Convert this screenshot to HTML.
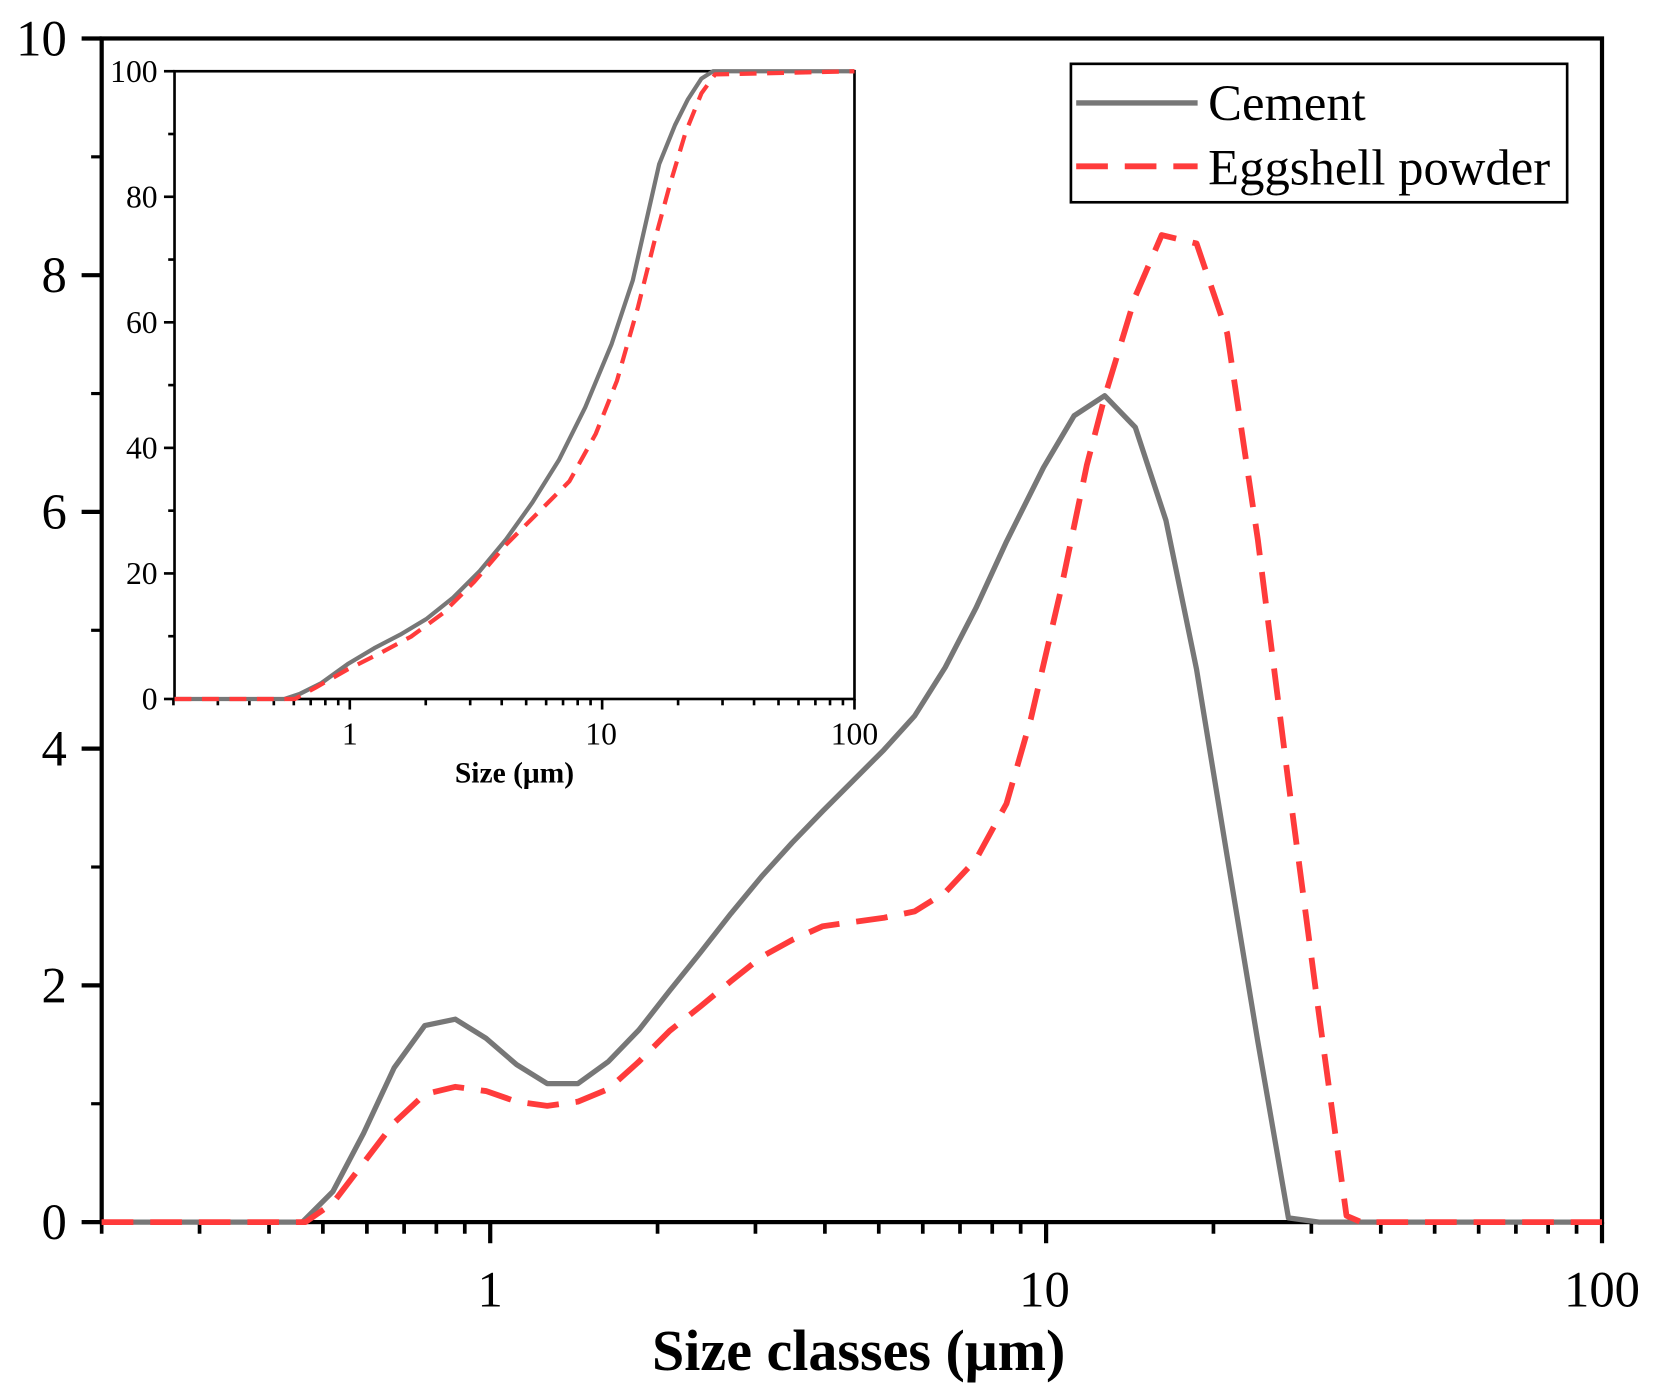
<!DOCTYPE html>
<html><head><meta charset="utf-8"><style>
html,body{margin:0;padding:0;background:#fff;width:1655px;height:1395px;overflow:hidden}
svg{display:block}
text{font-family:"Liberation Serif",serif;fill:#000}
</style></head><body>
<svg id="s" width="1655" height="1395" viewBox="0.7 -0.4 1567.5 1320" preserveAspectRatio="none" xmlns="http://www.w3.org/2000/svg">
<rect x="0" y="-1" width="1570" height="1325" fill="#fff"/>
<g id="ticks"></g>
<rect x="166" y="67" width="644" height="594" fill="none" stroke="#000" stroke-width="2.5"/>
<rect x="97" y="36" width="1421" height="1120" fill="none" stroke="#000" stroke-width="4"/>
<polyline fill="none" stroke="#777" stroke-width="5" stroke-linejoin="round" points="97,1156 287,1156 316,1127 345,1072 374,1010 403,970 432,964 461,982 490,1007 519,1025 548,1025 577,1004 606,974 635,937 664,901 693,864 722,829 751,797 780,767 809,738 838,709 867,677 896,631 925,575 954,512 989,442 1018,393 1047,374 1076,404 1105,492 1134,633 1163,810 1192,985 1221,1152 1250,1156 1518,1156"/>
<polyline fill="none" stroke="#ff3b3b" stroke-width="5.5" stroke-dasharray="30,16" stroke-linejoin="round" points="97,1156 290,1156 316,1138 345,1100 374,1062 403,1035 432,1028 461,1032 490,1042 519,1046 548,1042 577,1030 606,1004 635,975 664,952 693,928 722,905 751,889 780,876 809,872 838,868 867,862 896,844 925,813 954,760 977,680 1005,560 1030,440 1047,375 1076,280 1101,222 1134,230 1163,315 1192,510 1221,740 1250,960 1276,1150 1290,1156 1518,1156"/>
<polyline fill="none" stroke="#777" stroke-width="4" stroke-linejoin="round" points="166,661 270,661 285,656 305,646 330,628 355,613 380,600 405,585 430,565 455,540 480,510 505,475 530,435 555,385 580,325 600,265 625,155 640,118 652,94 665,74 676,67 810,67"/>
<polyline fill="none" stroke="#ff3b3b" stroke-width="4" stroke-dasharray="16,10" stroke-linejoin="round" points="166,661 280,661 300,650 330,633 360,618 390,602 420,580 450,550 480,515 510,485 540,455 565,410 585,360 605,290 620,230 635,175 650,125 665,88 678,70 810,67"/>
<rect x="1015" y="60" width="470" height="131" fill="#fff" stroke="#000" stroke-width="2.5"/>
<line x1="1020" y1="97" x2="1135" y2="97" stroke="#777" stroke-width="5"/>
<line x1="1020" y1="157" x2="1135" y2="157" stroke="#ff3b3b" stroke-width="5.5" stroke-dasharray="30,16"/>
<text x="1145" y="113" font-size="48">Cement</text>
<text x="1145" y="174" font-size="48">Eggshell powder</text>
<text x="814" y="1296" font-size="55" font-weight="bold" text-anchor="middle">Size classes (μm)</text>
<text x="488" y="740" font-size="28" font-weight="bold" text-anchor="middle">Size (μm)</text>
</svg>
<script>
var g=document.getElementById('ticks'),h='';
function L(x1,y1,x2,y2,w){h+='<line x1="'+x1+'" y1="'+y1+'" x2="'+x2+'" y2="'+y2+'" stroke="#000" stroke-width="'+w+'"/>';}
function T(x,y,s,fs,a){h+='<text x="'+x+'" y="'+y+'" font-size="'+fs+'" text-anchor="'+a+'">'+s+'</text>';}
for(var v=0;v<=10;v++){var y=1156-v*112;if(v%2==0){L(78,y,97,y,4);T(64,y+16,v,48,'end');}else L(87,y,97,y,3);}
var dec=526.5,x0=465;
for(var e=-1;e<=1;e++){for(var m=1;m<10;m++){var val=m*Math.pow(10,e);if(val<0.2-1e-9)continue;var x=x0+Math.log10(val)*dec;L(x,1156,x,m==1?1176:1167,m==1?4:3.5);}}
L(1518,1156,1518,1176,4);
T(465,1236,'1',48,'middle');T(990,1236,'10',48,'middle');T(1518,1236,'100',48,'middle');
for(var v=0;v<=100;v+=10){var y=661-v*5.94;if(v%20==0){L(156,y,166,y,2.5);T(150,y+10,v,30,'end');}else L(160,y,166,y,2.5);}
var d2=239,x2=332;
for(var e=-1;e<=1;e++){for(var m=1;m<10;m++){var val=m*Math.pow(10,e);if(val<0.2-1e-9)continue;var x=x2+Math.log10(val)*d2;L(x,661,x,m==1?671:667,2.5);}}
L(810,661,810,671,2.5);
T(332,704,'1',30,'middle');T(570,704,'10',30,'middle');T(810,704,'100',30,'middle');
g.innerHTML=h;
</script>
</body></html>
